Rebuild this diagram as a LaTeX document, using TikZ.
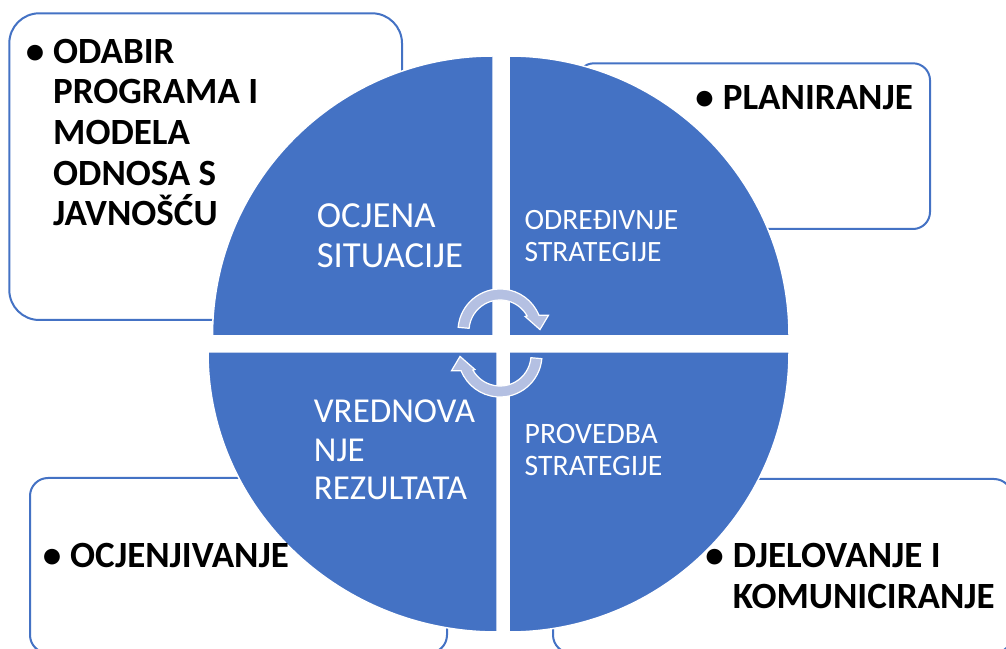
\documentclass[tikz,border=0pt]{standalone}
\usepackage{fontspec}
\setmainfont{Carlito}
\definecolor{quadblue}{HTML}{4472C4}
\definecolor{arrowfill}{HTML}{B4C0E2}

\begin{document}
\begin{tikzpicture}[x=1pt,y=1pt]
\tikzstyle{outerbox}=[draw=quadblue, line width=2pt, fill=white]
\tikzstyle{quadrant}=[fill=quadblue, draw=white, line width=1.5pt]
\tikzstyle{cyclearrow}=[fill=arrowfill, draw=white, line width=1.2pt, line join=miter]
\tikzstyle{quadtext}=[text=white, align=left, inner sep=0pt, anchor=base west]
\tikzstyle{boxtext}=[font=\fontsize{37}{40.6}\selectfont\bfseries, align=left, inner sep=0pt, anchor=base west]
\useasboundingbox (0,0) rectangle (1006,648);
\clip (0,0) rectangle (1006,648);
\draw [outerbox, rounded corners=30pt] (9.3,328) rectangle (402,634.7);
\draw [outerbox, rounded corners=17pt] (577,419) rectangle (930,584.7);
\draw [outerbox, rounded corners=18pt] (30,-5) rectangle (447,170);
\draw [outerbox, rounded corners=18pt] (553,-5) rectangle (1012,169);
\filldraw [quadrant] (493,312) -- (212.5,312) arc (180:90:280.5 and 280) -- cycle;
\filldraw [quadrant] (509,312) -- (509,592) arc (90:0:280) -- cycle;
\filldraw [quadrant] (497,296) -- (497,16) arc (270:180:289 and 280) -- cycle;
\filldraw [quadrant] (509,296) -- (789,296) arc (0:-90:280) -- cycle;
\filldraw [cyclearrow, shift={(500,317)}] (175:42) arc (175:22:42) -- (18:51) -- (2:40) -- (30:29) -- (29:31) arc (29:175:31) -- cycle;
\filldraw [cyclearrow, shift={(500,293)}, rotate=180] (175:42) arc (175:22:42) -- (18:51) -- (2:40) -- (30:29) -- (29:31) arc (29:175:31) -- cycle;
\node [quadtext, font=\fontsize{36.7}{40.5}\selectfont] (ocjena) at (316.7,380) {OCJENA\\SITUACIJE};
\node [quadtext, font=\fontsize{29.5}{32}\selectfont] (odredivanje) at (524.5,386) {ODREĐIVNJE\\STRATEGIJE};
\node [quadtext, font=\fontsize{35}{38}\selectfont] (vrednovanje) at (313.7,149) {VREDNOVA\\NJE\\REZULTATA};
\node [quadtext, font=\fontsize{29.7}{31.7}\selectfont] (provedba) at (524.5,172.3) {PROVEDBA\\STRATEGIJE};
\node [boxtext] (odabir) at (53,422.3) {\llap{•\hspace{9pt}}ODABIR\\PROGRAMA I\\MODELA\\ODNOSA S\\JAVNOŠĆU};
\node [boxtext] (planiranje) at (722.7,538.7) {\llap{•\hspace{9pt}}PLANIRANJE};
\node [boxtext] (ocjenjivanje) at (70,80.3) {\llap{•\hspace{9pt}}OCJENJIVANJE};
\node [boxtext] (djelovanje) at (732.7,39.7) {\llap{•\hspace{9pt}}DJELOVANJE I\\KOMUNICIRANJE};
\end{tikzpicture}
\end{document}
